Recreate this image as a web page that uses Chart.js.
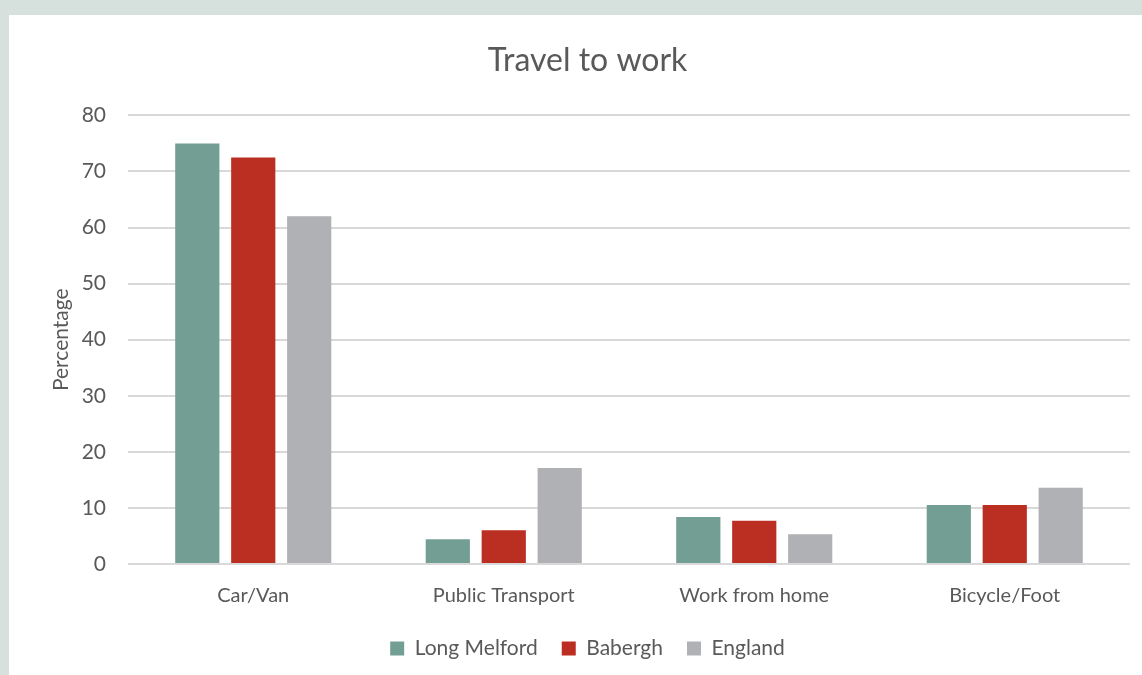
<!DOCTYPE html>
<html>
<head>
<meta charset="utf-8">
<script src="https://cdn.jsdelivr.net/npm/chart.js@4"></script>
<style>
  html, body { margin: 0; padding: 0; background: #d6e0dd; }
  #wrap { position: absolute; left: 9px; top: 15px; width: 1133px; height: 660px; background: #fff; }
</style>
</head>
<body>
<div id="wrap"><canvas id="travelChart"></canvas></div>
<script>
const categories = ['Car/Van', 'Public Transport', 'Work from home', 'Bicycle/Foot'];
const longMelford = [75.0, 4.4, 8.4, 10.5];
const babergh = [72.5, 6.0, 7.7, 10.5];
const england = [62.0, 17.1, 5.3, 13.6];
const seriesNames = ['Long Melford', 'Babergh', 'England'];
const seriesColors = ['#739e94', '#bb2e22', '#b0b1b5'];

const textColor = '#595959';
const fontFamily = 'Lato, "Open Sans", sans-serif';

// nudge the legend up a little after layout
const legendNudge = {
  id: 'legendNudge',
  afterLayout(chart) {
    if (chart.legend) {
      chart.legend.top -= 6;
      chart.legend.bottom -= 6;
    }
  }
};

const ctx = document.getElementById('travelChart').getContext('2d');
new Chart(ctx, {
  type: 'bar',
  data: {
    labels: categories,
    datasets: [longMelford, babergh, england].map((d, i) => ({
      label: seriesNames[i],
      data: d,
      backgroundColor: seriesColors[i],
      categoryPercentage: 0.67,
      barPercentage: 0.79
    }))
  },
  options: {
    responsive: true,
    maintainAspectRatio: false,
    animation: false,
    layout: { padding: { left: 36, right: 12, top: 14, bottom: 0 } },
    plugins: {
      title: {
        display: true,
        text: 'Travel to work',
        color: textColor,
        font: { family: fontFamily, size: 32, weight: 'normal' },
        padding: { top: 12, bottom: 36 }
      },
      legend: {
        position: 'bottom',
        labels: {
          color: textColor,
          font: { family: fontFamily, size: 21 },
          boxWidth: 14,
          boxHeight: 14,
          padding: 24
        }
      },
      tooltip: { enabled: false }
    },
    scales: {
      x: {
        grid: { display: false },
        border: { display: false },
        ticks: { color: textColor, font: { family: fontFamily, size: 20 }, padding: 12 }
      },
      y: {
        min: 0,
        max: 80,
        ticks: { stepSize: 10, color: textColor, font: { family: fontFamily, size: 21 }, padding: 22 },
        grid: { color: '#d9d9d9', lineWidth: 2, drawTicks: false },
        border: { display: false },
        title: {
          display: true,
          text: 'Percentage',
          color: textColor,
          font: { family: fontFamily, size: 21 }
        },
        afterFit: (axis) => { axis.width = 83; }
      }
    }
  },
  plugins: [legendNudge]
});
</script>
</body>
</html>
